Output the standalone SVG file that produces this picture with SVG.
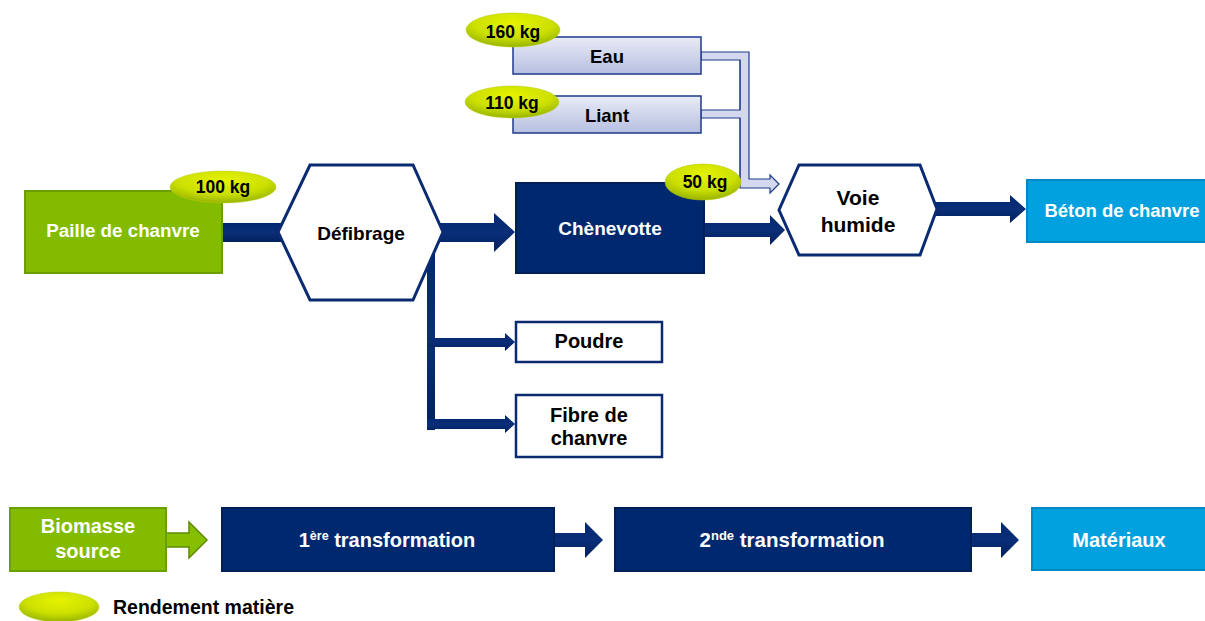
<svg xmlns="http://www.w3.org/2000/svg" width="1205" height="621" viewBox="0 0 1205 621">
<defs>
<linearGradient id="gLight" x1="0" y1="0" x2="0" y2="1">
<stop offset="0" stop-color="#E8EBF6"/><stop offset="1" stop-color="#B7BFE0"/>
</linearGradient>
<radialGradient id="gEll" cx="0.5" cy="0.3" r="0.7">
<stop offset="0" stop-color="#E6F200"/><stop offset="0.6" stop-color="#CCE000"/><stop offset="1" stop-color="#98B400"/>
</radialGradient>
<linearGradient id="gNavy" x1="0" y1="0" x2="0" y2="1">
<stop offset="0" stop-color="#00286F"/><stop offset="0.5" stop-color="#0A2E78"/><stop offset="1" stop-color="#00205E"/>
</linearGradient>
</defs>
<style>
text{font-family:"Liberation Sans",Arial,sans-serif;font-weight:bold;text-anchor:middle}
.w{fill:#FFFFFF}
.k{fill:#000000}
.start{text-anchor:start}
.green{fill:#82BB00;stroke:#6B9E00;stroke-width:2}
.navy{fill:#00286F;stroke:#001E58;stroke-width:2}
.blue{fill:#00A1DE;stroke:#0088C2;stroke-width:2}
.light{fill:url(#gLight);stroke:#1F3A8A;stroke-width:1.5}
.white{fill:#FFFFFF;stroke:#0A2A72;stroke-width:2.5}
.hex{fill:#FFFFFF;stroke:#0A2A72;stroke-width:3}
.ell{fill:url(#gEll);stroke:#B8CC00;stroke-width:0.5}
.arr{fill:url(#gNavy)}
.larr{fill:#D3D8EE;stroke:#1F3A8A;stroke-width:1.2}
.garr{fill:#86BE00;stroke:#5E8C00;stroke-width:1.5}
</style>

<g id="connectors">
<rect class="arr" x="222" y="223" width="70" height="19"/>
<rect class="arr" x="427" y="250" width="8" height="180"/>
<path class="arr" d="M427,338 L505,338 L505,333 L515,342 L505,351 L505,347 L427,347 Z"/>
<path class="arr" d="M427,419 L505,419 L505,415 L515,424 L505,433 L505,429 L427,429 Z"/>
<path class="arr" d="M440,223 L494,223 L494,213 L515,232 L494,252 L494,242 L440,242 Z"/>
<path class="arr" d="M704,223 L770,223 L770,215 L785,230 L770,245 L770,237 L704,237 Z"/>
<path class="arr" d="M935,202 L1010,202 L1010,195 L1026,209 L1010,223 L1010,216 L935,216 Z"/>
<path class="larr" d="M701,52 L749,52 L749,179 L770,179 L770,175 L779,184 L770,193 L770,188 L740,188 L740,118 L701,118 L701,110 L740,110 L740,60 L701,60 Z"/>
<line x1="740" y1="60" x2="740" y2="110" stroke="#1F3A8A" stroke-width="1"/>
<line x1="740" y1="118" x2="740" y2="179" stroke="#1F3A8A" stroke-width="1"/>
<path class="garr" d="M166,533 L189,533 L189,522 L207,540 L189,558 L189,547 L166,547 Z"/>
<path class="arr" d="M554,533 L585,533 L585,522 L603,540 L585,558 L585,547 L554,547 Z"/>
<path class="arr" d="M971,533 L1001,533 L1001,522 L1019,540 L1001,558 L1001,547 L971,547 Z"/>
</g>

<g id="paille">
<rect class="green" x="25" y="191" width="197" height="82"/>
<text class="w" x="123" y="237" font-size="18.8">Paille de chanvre</text>
<ellipse class="ell" cx="223" cy="187" rx="53" ry="16"/>
<text class="k" x="223" y="193" font-size="17.5">100 kg</text>
</g>

<g id="defibrage">
<polygon class="hex" points="310,165 413,165 443,232 413,300 310,300 278,232"/>
<text class="k" x="361" y="240" font-size="19">Défibrage</text>
</g>

<g id="chenevotte">
<rect class="navy" x="516" y="183" width="188" height="90"/>
<text class="w" x="610" y="235" font-size="19">Chènevotte</text>
</g>

<g id="eau">
<rect class="light" x="513" y="37" width="188" height="37"/>
<text class="k" x="607" y="63" font-size="18.5">Eau</text>
<ellipse class="ell" cx="513" cy="30" rx="47" ry="17"/>
<text class="k" x="513" y="38" font-size="17.5">160 kg</text>
</g>

<g id="liant">
<rect class="light" x="513" y="96" width="188" height="37"/>
<text class="k" x="607" y="122" font-size="18.5">Liant</text>
<ellipse class="ell" cx="512" cy="102" rx="47" ry="16"/>
<text class="k" x="512" y="109" font-size="17.5">110 kg</text>
</g>

<g id="rendement50">
<ellipse class="ell" cx="703" cy="182" rx="38" ry="18"/>
<text class="k" x="705" y="188" font-size="17.5">50 kg</text>
</g>

<g id="voie">
<polygon class="hex" points="799,165 920,165 937,209 920,255 799,255 779,210"/>
<text class="k" x="858" y="205" font-size="21">Voie</text>
<text class="k" x="858" y="232" font-size="21">humide</text>
</g>

<g id="beton">
<rect class="blue" x="1027" y="180" width="182" height="62"/>
<text class="w" x="1122" y="217" font-size="18.5">Béton de chanvre</text>
</g>

<g id="poudre">
<rect class="white" x="516" y="322" width="146" height="40"/>
<text class="k" x="589" y="348" font-size="20">Poudre</text>
</g>

<g id="fibre">
<rect class="white" x="516" y="395" width="146" height="62"/>
<text class="k" x="589" y="422" font-size="20">Fibre de</text>
<text class="k" x="589" y="445" font-size="20">chanvre</text>
</g>

<g id="biomasse">
<rect class="green" x="10" y="508" width="156" height="63"/>
<text class="w" x="88" y="533" font-size="20">Biomasse</text>
<text class="w" x="88" y="558" font-size="20">source</text>
</g>

<g id="transfo1">
<rect class="navy" x="222" y="508" width="332" height="63"/>
<text class="w" x="387" y="547" font-size="20">1<tspan font-size="12.5" dy="-7">ère</tspan><tspan dy="7"> transformation</tspan></text>
</g>

<g id="transfo2">
<rect class="navy" x="615" y="508" width="356" height="63"/>
<text class="w" x="792" y="547" font-size="20.5">2<tspan font-size="13" dy="-7">nde</tspan><tspan dy="7"> transformation</tspan></text>
</g>

<g id="materiaux">
<rect class="blue" x="1032" y="508" width="177" height="62"/>
<text class="w" x="1119" y="547" font-size="20">Matériaux</text>
</g>

<g id="legend">
<ellipse class="ell" cx="59" cy="607" rx="40" ry="15"/>
<text class="k start" x="113" y="614" font-size="19.5">Rendement matière</text>
</g>
</svg>
